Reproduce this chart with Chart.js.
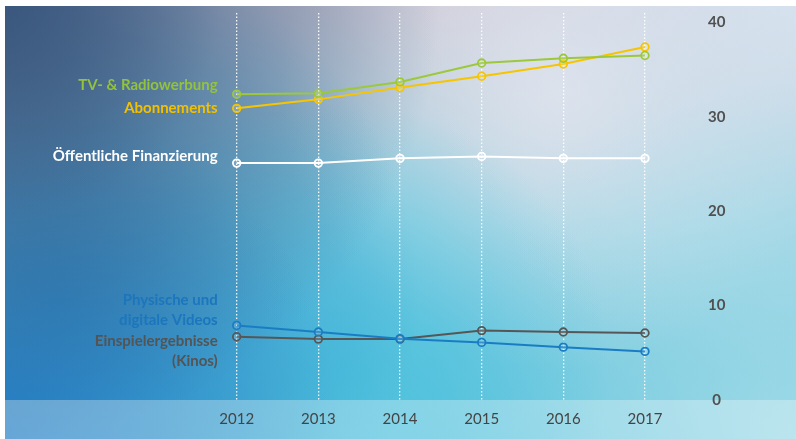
<!DOCTYPE html>
<html lang="de">
<head>
<meta charset="utf-8">
<title>Finanzierungsquellen 2012–2017</title>
<script src="https://cdn.jsdelivr.net/npm/chart.js@4/dist/chart.umd.min.js"></script>
<style>
  html, body { margin: 0; padding: 0; background: #ffffff; }
  #wrap { width: 796px; height: 439px; position: relative; }
  canvas { display: block; }
</style>
</head>
<body>
<div id="wrap"><canvas id="chart" width="796" height="439"></canvas></div>
<script>
// Jahre (x-Achse)
const years = ['2012', '2013', '2014', '2015', '2016', '2017'];

// Werte je Finanzierungsquelle
const tvRadio     = [32.4, 32.5, 33.7, 35.7, 36.2, 36.5];
const abonnements = [30.9, 31.85, 33.1, 34.3, 35.6, 37.4];
const oeffentlich = [25.1, 25.1, 25.6, 25.8, 25.6, 25.6];
const videos      = [7.9, 7.2, 6.5, 6.1, 5.6, 5.15];
const kinos       = [6.7, 6.45, 6.45, 7.35, 7.2, 7.1];

// Beschriftungen neben den Linien
const seriesNames = {
  tv: ['TV- & Radiowerbung'],
  abo: ['Abonnements'],
  oeff: ['Öffentliche Finanzierung'],
  vid: ['Physische und', 'digitale Videos'],
  kino: ['Einspielergebnisse', '(Kinos)']
};

// y-Achse
const yTicks = [0, 10, 20, 30, 40];

const FONT = 'Lato, "Open Sans", "DejaVu Sans", sans-serif';

// Hintergrund: weicher Farbverlauf plus helles Band unter der Zeichenfläche
const backdrop = {
  id: 'backdrop',
  beforeDraw(chart) {
    const ctx = chart.ctx;
    const x0 = 5, y0 = 6, w = chart.width - x0, h = chart.height - y0;
    ctx.save();
    ctx.beginPath();
    ctx.rect(x0, y0, w, h);
    ctx.clip();

    let g = ctx.createLinearGradient(0, y0, 0, chart.height);
    g.addColorStop(0, '#c4c2d0');
    g.addColorStop(0.5, '#8ccfe0');
    g.addColorStop(1, '#5cc3dc');
    ctx.fillStyle = g;
    ctx.fillRect(x0, y0, w, h);

    const radial = (cx, cy, r, c0, c1) => {
      const rg = ctx.createRadialGradient(cx, cy, 0, cx, cy, r);
      rg.addColorStop(0, c0);
      rg.addColorStop(1, c1);
      ctx.fillStyle = rg;
      ctx.fillRect(x0, y0, w, h);
    };
    // helle Mitte oben
    radial(560, 90, 280, 'rgba(232,230,238,0.85)', 'rgba(232,230,238,0)');
    // rechts oben hell-bläulich
    radial(796, 0, 380, 'rgba(214,228,240,0.95)', 'rgba(214,228,240,0)');
    // rechts unten helles Cyan
    radial(796, 439, 360, 'rgba(166,220,232,0.9)', 'rgba(166,220,232,0)');
    // Mitte unten kräftiges Cyan
    radial(340, 370, 270, 'rgba(70,192,222,0.8)', 'rgba(70,192,222,0)');
    // linke Hälfte Blau
    radial(60, 300, 360, 'rgba(44,142,200,0.85)', 'rgba(44,142,200,0)');
    // links unten Blau
    radial(0, 430, 340, 'rgba(36,128,198,1)', 'rgba(36,128,198,0)');
    // links oben dunkles Marineblau
    radial(0, 0, 440, 'rgba(56,86,126,1)', 'rgba(56,86,126,0)');
    radial(0, 0, 220, 'rgba(58,86,124,0.6)', 'rgba(58,86,124,0)');

    // helles Band unter der Fläche
    const bandTop = chart.chartArea.bottom;
    ctx.fillStyle = 'rgba(255,255,255,0.3)';
    ctx.fillRect(x0, bandTop, w, chart.height - bandTop);
    ctx.restore();
  }
};

// Reihennamen links neben dem ersten Punkt, rechtsbündig
const sideLabels = {
  id: 'sideLabels',
  afterDatasetsDraw(chart) {
    const ctx = chart.ctx;
    const yScale = chart.scales.y;
    const xRight = chart.chartArea.left - 19;
    ctx.save();
    ctx.font = 'bold 15px ' + FONT;
    ctx.textAlign = 'right';
    ctx.textBaseline = 'middle';
    chart.data.datasets.forEach(ds => {
      const yFirst = yScale.getPixelForValue(ds.data[0]);
      ctx.fillStyle = ds.labelColor;
      ds.nameLines.forEach((line, i) => {
        ctx.fillText(line, xRight, yFirst + ds.labelShift + i * 20);
      });
    });
    ctx.restore();
  }
};

function series(label, values, color, labelColor, nameLines, labelShift) {
  return {
    label: label,
    data: values,
    borderColor: color,
    backgroundColor: color,
    borderWidth: 2,
    pointRadius: 3.8,
    pointHoverRadius: 3.8,
    pointBorderWidth: 1.8,
    pointBorderColor: color,
    pointBackgroundColor: 'rgba(255,255,255,0.15)',
    tension: 0,
    fill: false,
    labelColor: labelColor,
    nameLines: nameLines,
    labelShift: labelShift
  };
}

function build() {
  new Chart(document.getElementById('chart'), {
    type: 'line',
    data: {
      labels: years,
      datasets: [
        series(seriesNames.tv[0], tvRadio, '#9cc83a', '#93c23c', seriesNames.tv, -9),
        series(seriesNames.abo[0], abonnements, '#f6c500', '#f2c000', seriesNames.abo, 0),
        series(seriesNames.oeff[0], oeffentlich, '#ffffff', '#ffffff', seriesNames.oeff, -7),
        series(seriesNames.vid.join(' '), videos, '#1a7dc4', '#1b76bd', seriesNames.vid, -25),
        series(seriesNames.kino.join(' '), kinos, '#565656', '#545454', seriesNames.kino, 4)
      ]
    },
    options: {
      responsive: false,
      animation: false,
      events: [],
      layout: { padding: { left: 236.7, right: 70, top: 13, bottom: 1 } },
      plugins: {
        legend: { display: false },
        tooltip: { enabled: false },
        title: { display: false }
      },
      scales: {
        x: {
          type: 'category',
          offset: false,
          // gepunktete senkrechte Linien je Jahr
          border: { display: false, dash: [1.5, 2] },
          grid: {
            display: true,
            drawTicks: false,
            color: 'rgba(255,255,255,0.95)',
            lineWidth: 1.3
          },
          ticks: {
            color: '#444444',
            font: { family: FONT, size: 15, weight: 'normal' },
            padding: 10,
            maxRotation: 0
          }
        },
        y: {
          position: 'right',
          min: 0,
          max: 41,
          border: { display: false },
          grid: { display: false, drawTicks: false },
          afterBuildTicks(axis) {
            axis.ticks = yTicks.map(v => ({ value: v }));
          },
          afterFit(axis) {
            axis.width = 81;
            axis.paddingTop = 0;
            axis.paddingBottom = 0;
          },
          ticks: {
            color: '#505050',
            font: { family: FONT, size: 15, weight: 'bold' },
            padding: 63,
            crossAlign: 'center'
          }
        }
      }
    },
    plugins: [backdrop, sideLabels]
  });
}

const ready = (document.fonts && document.fonts.load)
  ? Promise.all([
      document.fonts.load('bold 15px Lato'),
      document.fonts.load('15px Lato')
    ]).catch(() => {})
  : Promise.resolve();
ready.then(build);
</script>
</body>
</html>
